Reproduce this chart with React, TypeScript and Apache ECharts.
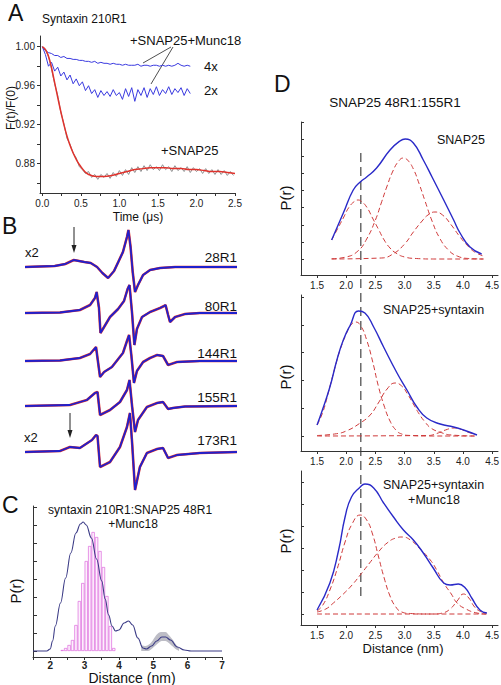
import React, { useEffect, useRef } from "react";
import * as echarts from "echarts";

const FONT = "'Liberation Sans', Arial, Helvetica, sans-serif";

// ---------------- Panel A : F(t)/F(0) vs time ----------------
const aStep = 0.04;
const aMunc4x = [1.0, 0.996, 0.994, 0.993, 0.991, 0.991, 0.989, 0.99, 0.988, 0.988, 0.987, 0.987, 0.986, 0.986, 0.985, 0.985, 0.984, 0.985, 0.983, 0.984, 0.983, 0.983, 0.982, 0.983, 0.982, 0.982, 0.981, 0.982, 0.981, 0.981, 0.981, 0.982, 0.98, 0.981, 0.981, 0.98, 0.981, 0.981, 0.98, 0.981, 0.98, 0.981, 0.98, 0.981, 0.983, 0.981, 0.98, 0.981, 0.98];
const aMunc2x = [1.0, 0.992, 0.98, 0.984, 0.975, 0.979, 0.97, 0.974, 0.966, 0.971, 0.962, 0.967, 0.96, 0.964, 0.955, 0.96, 0.952, 0.956, 0.948, 0.955, 0.95, 0.954, 0.949, 0.956, 0.95, 0.953, 0.946, 0.957, 0.949, 0.958, 0.944, 0.956, 0.95, 0.958, 0.948, 0.957, 0.951, 0.959, 0.95, 0.956, 0.952, 0.959, 0.951, 0.957, 0.953, 0.958, 0.95, 0.957, 0.952];
const aSnapRaw = [1.0, 0.997, 0.99, 0.977, 0.962, 0.95, 0.933, 0.921, 0.906, 0.9, 0.891, 0.886, 0.877, 0.874, 0.87, 0.872, 0.866, 0.869, 0.864, 0.869, 0.866, 0.87, 0.865, 0.871, 0.867, 0.873, 0.868, 0.874, 0.869, 0.876, 0.871, 0.877, 0.872, 0.878, 0.873, 0.879, 0.874, 0.877, 0.873, 0.879, 0.874, 0.877, 0.872, 0.878, 0.873, 0.876, 0.872, 0.877, 0.871, 0.876, 0.872, 0.875, 0.87, 0.875, 0.87, 0.874, 0.869, 0.874, 0.869, 0.873, 0.868, 0.872, 0.868];
const aFitT = [0, 0.05, 0.1, 0.15, 0.2, 0.25, 0.3, 0.35, 0.4, 0.45, 0.5, 0.55, 0.6, 0.7, 0.8, 0.9, 1.0, 1.1, 1.2, 1.3, 1.4, 1.5, 1.6, 1.7, 1.8, 1.9, 2.0, 2.1, 2.2, 2.3, 2.4, 2.5];
const aFitV = [1.0, 0.996, 0.985, 0.967, 0.948, 0.93, 0.914, 0.901, 0.891, 0.883, 0.877, 0.872, 0.869, 0.867, 0.867, 0.868, 0.87, 0.872, 0.874, 0.875, 0.876, 0.876, 0.876, 0.875, 0.875, 0.874, 0.874, 0.873, 0.872, 0.872, 0.871, 0.87];
const aYLabels = [0.88, 0.92, 0.96, 1.0];
const aYTicks = [0.86, 0.88, 0.9, 0.92, 0.94, 0.96, 0.98, 1.0];
const aXLabels = [0, 0.5, 1.0, 1.5, 2.0, 2.5];
const aXTicks = [0, 0.25, 0.5, 0.75, 1.0, 1.25, 1.5, 1.75, 2.0, 2.25, 2.5];

// ---------------- Panel B : EPR spectra ----------------
const bNames = ["28R1", "80R1", "144R1", "155R1", "173R1"];
const bOffsets = [233, 187, 139, 94, 48];
const b28R1 = [[0, 0], [7, 0.5], [14, 1], [19, 3], [23, 7], [28, 5], [31, 4], [34, 0], [36.5, -6], [39.2, -11], [42, -4], [44, 5], [46.2, 15], [48.1, 30], [48.8, 37], [49.8, 20], [50.8, -5], [51.9, -25], [53.3, -18], [55.7, -8], [59, -3], [63.7, -1], [70.8, 0], [100, 0]];
const b80R1 = [[0, 0], [16.5, 0.5], [25.9, 3], [30.7, 8], [33, 15], [33.8, 21], [34.9, 5], [35.6, -20], [37.3, -14], [40.1, -4], [43.9, 4], [46.7, 12], [48.4, 24], [49.3, 28], [50.5, 0], [51.6, -32], [52.8, -16], [55.2, -4], [59, 1], [63.7, 5], [65.6, 7], [66.3, 8], [67.5, -2], [68.4, -9], [70.8, -4], [75.5, -1], [82.5, 0], [100, 0]];
const b144R1 = [[0, 0], [16.5, 0.5], [25.9, 3], [30.7, 7], [33.5, 14], [35.4, -16], [37.3, -11], [41, -6], [46.2, 8], [48.1, 20], [49.1, 26], [50.2, 5], [51.4, -22], [52.8, -10], [55.7, -1], [59, 3], [62.3, 6], [65.1, 5], [67.5, -4], [71.7, -1], [82.5, 0], [100, 0]];
const b155R1 = [[0, 0], [21.2, 1], [29.2, 6], [33, 13], [34.2, 14], [35.4, -9], [40.1, -4], [44.8, 4], [48.1, 16], [49.3, 26], [50.5, 0], [51.9, -26], [53.3, -14], [57.5, -1], [62.3, 3], [65.1, 4], [67.5, -3], [69.8, -2], [75.5, -0.5], [100, 0]];
const b173R1 = [[0, 0], [16.5, 1], [21.2, 5], [25.9, 4], [31.6, 12], [33.5, 17], [34.2, 16], [35.4, -15], [40.1, -10], [44.8, 5], [48.1, 25], [49.5, 39], [50.5, 10], [51.9, -38], [54.2, -15], [57.5, -1], [62.3, 3], [65.1, 4], [67.5, -6], [71.7, -3], [82.5, -1], [100, 0]];
const bSpectra = [b28R1, b80R1, b144R1, b155R1, b173R1];

// ---------------- Panel C : distance distribution ----------------
const cCurveR = [1.5, 1.9, 2.0, 2.07, 2.15, 2.3, 2.45, 2.6, 2.75, 2.88, 2.96, 3.05, 3.2, 3.35, 3.5, 3.6, 3.7, 3.8, 3.9, 4.0, 4.15, 4.28, 4.4, 4.55, 4.7, 4.8, 4.95, 5.1, 5.25, 5.36, 5.5, 5.7, 5.9, 6.1, 7.0];
const cCurveH = [0, 0, 2, 10, 25, 48, 73, 98, 118, 127, 129, 126, 113, 92, 70, 52, 36, 25, 20, 21, 28, 30, 26, 13, 3, 2, 5, 10, 14, 14, 11, 4, 1, 0, 0];
const cBandR = [4.65, 4.75, 4.85, 4.95, 5.05, 5.15, 5.25, 5.35, 5.45, 5.55, 5.65, 5.75];
const cBandLo = [0, 0, 0, 2, 5, 8, 10, 10, 8, 5, 2, 0];
const cBandHi = [6, 5, 6, 9, 14, 18, 19, 19, 16, 12, 7, 3];
const cHistR = [2.35, 2.45, 2.55, 2.65, 2.75, 2.85, 2.95, 3.05, 3.15, 3.25, 3.35, 3.45, 3.55, 3.65, 3.75, 3.85];
const cHistH = [1, 3, 6, 11, 26, 50, 68, 90, 105, 119, 114, 100, 84, 55, 25, 3];
const cXLabels = [2, 3, 4, 5, 6, 7];
const cXTicks = [1.5, 2, 2.5, 3, 3.5, 4, 4.5, 5, 5.5, 6, 6.5, 7];
const cYTicks = [0, 18, 36, 54, 72, 90, 108, 126, 144];

// ---------------- Panel D : SNAP25 48R1:155R1 ----------------
const dXLabels = [1.5, 2.0, 2.5, 3.0, 3.5, 4.0, 4.5];
const dMarker = 2.25;
// top: SNAP25
const dTopBlueR = [1.75, 1.95, 2.12, 2.24, 2.35, 2.52, 2.75, 2.92, 3.01, 3.15, 3.32, 3.47, 3.67, 3.84, 3.95, 4.12, 4.32];
const dTopBlueH = [19, 46, 69, 77, 82, 91, 109, 118, 120, 116, 99, 82, 59, 39, 26, 12, 5];
const dTopG1R = [1.75, 1.85, 1.95, 2.05, 2.15, 2.2, 2.25, 2.35, 2.45, 2.55, 2.65, 2.75, 2.85, 3.0, 3.2, 3.5, 4.35];
const dTopG1H = [19, 30, 41, 52, 58, 59, 58, 52, 41, 30, 19, 11, 6, 2, 0.5, 0, 0];
const dTopG2R = [1.75, 2.0, 2.2, 2.35, 2.5, 2.6, 2.7, 2.8, 2.9, 2.98, 3.05, 3.15, 3.25, 3.35, 3.47, 3.6, 3.75, 3.9, 4.1, 4.35];
const dTopG2H = [0.2, 2, 8, 20, 39, 56, 73, 88, 98, 101, 99, 90, 75, 58, 38, 21, 9, 3, 0.5, 0];
const dTopG3R = [1.75, 2.6, 2.8, 3.0, 3.15, 3.3, 3.4, 3.52, 3.65, 3.8, 3.95, 4.1, 4.2, 4.35];
const dTopG3H = [0, 1, 5, 15, 27, 38, 44, 47, 44, 34, 22, 12, 7, 3];
const dTopTicks = [0, 17.1, 34.2, 51.3, 68.4, 85.5, 102.6, 119.7, 136.8];
// middle: SNAP25+syntaxin
const dMidBlueR = [1.5, 1.58, 1.72, 1.84, 1.95, 2.07, 2.21, 2.32, 2.47, 2.64, 2.87, 3.04, 3.21, 3.38, 3.61, 3.84, 4.01, 4.24];
const dMidBlueH = [11, 24, 49, 76, 96, 111, 125, 123, 109, 89, 63, 46, 29, 18, 12, 9, 6, 1];
const dMidG1R = [1.5, 1.6, 1.7, 1.8, 1.9, 2.0, 2.08, 2.16, 2.25, 2.35, 2.45, 2.55, 2.65, 2.75, 2.85, 2.95, 3.1, 3.4, 4.2];
const dMidG1H = [11, 24, 45, 67, 87, 102, 111, 114, 110, 96, 75, 50, 30, 15, 6, 2, 0.5, 0, 0];
const dMidG2R = [1.5, 1.8, 2.0, 2.24, 2.41, 2.55, 2.7, 2.84, 2.95, 3.05, 3.15, 3.25, 3.35, 3.45, 3.6, 3.8, 4.2];
const dMidG2H = [0.5, 2, 5, 13, 21, 33, 47, 53, 50, 42, 32, 22, 14, 8, 4, 1, 0];
const dMidG3R = [1.5, 3.4, 3.55, 3.7, 3.85, 4.0, 4.1, 4.2];
const dMidG3H = [0, 0.5, 2.5, 6, 8, 6, 3.5, 2];
const dMidTicks = [0, 27.8, 55.6, 83.4, 111.2, 139];
// bottom: SNAP25+syntaxin+Munc18
const dBotBlueR = [1.5, 1.72, 1.87, 1.98, 2.09, 2.24, 2.32, 2.47, 2.64, 2.81, 2.98, 3.15, 3.32, 3.49, 3.67, 3.78, 3.92, 4.04, 4.15, 4.29, 4.41];
const dBotBlueH = [4, 31, 64, 97, 117, 127, 130, 126, 111, 97, 84, 74, 61, 46, 31, 29, 30, 26, 16, 4, 1];
const dBotG1R = [1.5, 1.6, 1.72, 1.85, 1.98, 2.1, 2.24, 2.35, 2.45, 2.55, 2.65, 2.75, 2.85, 2.95, 3.1, 3.4, 4.4];
const dBotG1H = [3, 9, 24, 46, 72, 90, 99, 94, 80, 58, 36, 18, 7, 2, 0.5, 0, 0];
const dBotG2R = [1.5, 1.65, 1.78, 1.95, 2.1, 2.24, 2.4, 2.55, 2.7, 2.85, 2.96, 3.1, 3.25, 3.44, 3.55, 3.67, 3.8, 3.9, 4.05, 4.24, 4.4];
const dBotG2H = [2, 5, 11, 20, 29, 39, 51, 62, 71, 76, 77, 74, 66, 54, 44, 31, 20, 11, 5, 1, 0];
const dBotG3R = [1.5, 3.5, 3.65, 3.78, 3.9, 4.01, 4.1, 4.2, 4.3, 4.4];
const dBotG3H = [0, 0, 1, 5, 13, 20, 16, 7, 2.5, 1];
const dBotTicks = [0, 22, 44, 66, 88, 110, 132];

// ---------------- helpers ----------------
const zip = (xs: number[], ys: number[]) => xs.map((x, i) => [x, ys[i]]);
const RED = "#e0322c";
const DRED = "#cf3a3a";
const AX = "#333";

const lineSeries = (xi: number, data: number[][], color: string, width: number, extra: any = {}) => ({
  type: "line",
  xAxisIndex: xi,
  yAxisIndex: xi,
  data,
  symbol: "none",
  showSymbol: false,
  silent: true,
  lineStyle: { color, width },
  ...extra,
});

const txt = (id: string, text: string, x: number, y: number, size: number, opts: any = {}) => ({
  type: "text",
  id,
  x,
  y,
  rotation: opts.rotation || 0,
  silent: true,
  style: {
    text,
    fill: opts.fill || "#111",
    fontSize: size,
    fontFamily: FONT,
    fontWeight: opts.bold ? "bold" : "normal",
    textAlign: opts.align || "left",
    textVerticalAlign: "middle",
  },
});

const seg = (id: string, x1: number, y1: number, x2: number, y2: number, color = "#222", width = 0.8, dash: any = null) => ({
  type: "line",
  id,
  silent: true,
  shape: { x1, y1, x2, y2 },
  style: { stroke: color, lineWidth: width, lineDash: dash },
});

export default function App() {
  const ref = useRef<HTMLDivElement>(null);

  useEffect(() => {
    if (!ref.current) return;
    const chart = echarts.init(ref.current, null, { renderer: "svg" });

    const axisLine = { show: true, onZero: false, lineStyle: { color: AX, width: 1 } };
    const noSplit = { show: false };
    const labelStyle = { color: "#222", fontSize: 10, fontFamily: FONT };

    const grids = [
      { left: 40, top: 36, width: 195, height: 157 }, // A
      { left: 25, top: 200, width: 212, height: 300 }, // B
      { left: 33, top: 506, width: 189, height: 151 }, // C
      { left: 301, top: 122, width: 197, height: 153 }, // D top
      { left: 301, top: 295, width: 197, height: 156 }, // D mid
      { left: 301, top: 471, width: 197, height: 154 }, // D bot
    ].map((g) => ({ ...g, containLabel: false, outerBoundsMode: "none" }));

    const dX = (gi: number) => ({
      type: "value",
      gridIndex: gi,
      min: 1.225,
      max: 4.6,
      axisLine,
      splitLine: noSplit,
      axisTick: { show: true, length: 3, customValues: dXLabels, lineStyle: { color: AX } },
      axisLabel: { ...labelStyle, margin: 5, customValues: dXLabels, formatter: (v: number) => v.toFixed(1) },
    });
    const dY = (gi: number, min: number, max: number, ticks: number[]) => ({
      type: "value",
      gridIndex: gi,
      min,
      max,
      axisLine,
      splitLine: noSplit,
      axisTick: { show: true, inside: true, length: 3, customValues: ticks, lineStyle: { color: AX } },
      axisLabel: { show: false },
    });

    const xAxis: any[] = [
      {
        type: "value",
        gridIndex: 0,
        min: -0.03,
        max: 2.5,
        axisLine,
        splitLine: noSplit,
        axisTick: { show: true, length: 3, customValues: aXTicks, lineStyle: { color: AX } },
        axisLabel: { ...labelStyle, margin: 5, customValues: aXLabels, formatter: (v: number) => v.toFixed(1) },
      },
      { type: "value", gridIndex: 1, min: 0, max: 100, show: false },
      {
        type: "value",
        gridIndex: 2,
        min: 1.5,
        max: 7,
        axisLine,
        splitLine: noSplit,
        axisTick: { show: true, length: 3, customValues: cXTicks, lineStyle: { color: AX } },
        axisLabel: { ...labelStyle, fontSize: 10, fontWeight: "bold", margin: 3, customValues: cXLabels },
      },
      dX(3),
      dX(4),
      dX(5),
    ];

    const yAxis: any[] = [
      {
        type: "value",
        gridIndex: 0,
        min: 0.85,
        max: 1.011,
        axisLine,
        splitLine: noSplit,
        axisTick: { show: true, length: 3, customValues: aYTicks, lineStyle: { color: AX } },
        axisLabel: { ...labelStyle, margin: 5, customValues: aYLabels, formatter: (v: number) => v.toFixed(2) },
      },
      { type: "value", gridIndex: 1, min: 0, max: 300, show: false },
      {
        type: "value",
        gridIndex: 2,
        min: -6,
        max: 145,
        axisLine,
        splitLine: noSplit,
        axisTick: { show: true, inside: true, length: 4, customValues: cYTicks, lineStyle: { color: AX } },
        axisLabel: { show: false },
      },
      dY(3, -16, 137, dTopTicks),
      dY(4, -15, 141, dMidTicks),
      dY(5, -11, 143, dBotTicks),
    ];

    const series: any[] = [];
    // A
    series.push(lineSeries(0, aMunc4x.map((v, i) => [i * aStep, v]), "#3a3ae0", 1));
    series.push(lineSeries(0, aMunc2x.map((v, i) => [i * aStep, v]), "#3a3ae0", 1));
    series.push(lineSeries(0, aSnapRaw.map((v, i) => [i * aStep, v]), "#909090", 1));
    series.push(lineSeries(0, zip(aFitT, aFitV), RED, 1.5, { smooth: 0.4 }));
    // B
    bSpectra.forEach((sp, k) => {
      const data = sp.map(([u, h]) => [u, bOffsets[k] + h]);
      series.push(lineSeries(1, data, RED, 2.6));
      series.push(lineSeries(1, data, "#2020cc", 1.8));
    });
    // C : uncertainty band (grey upper area, white lower area), histogram, curve
    series.push(
      lineSeries(2, zip(cBandR, cBandHi), "#b9b9c2", 0, {
        smooth: 0.4,
        lineStyle: { width: 0, opacity: 0 },
        areaStyle: { color: "#bdbdc6", opacity: 1 },
      })
    );
    series.push(
      lineSeries(2, zip(cBandR, cBandLo), "#fff", 0, {
        smooth: 0.4,
        lineStyle: { width: 0, opacity: 0 },
        areaStyle: { color: "#ffffff", opacity: 1 },
      })
    );
    series.push({
      type: "bar",
      xAxisIndex: 2,
      yAxisIndex: 2,
      data: zip(cHistR, cHistH),
      barWidth: 3.3,
      silent: true,
      itemStyle: { color: "#fdf0fd", borderColor: "#dc6adc", borderWidth: 0.7 },
    });
    series.push(lineSeries(2, zip(cCurveR, cCurveH), "#3b3b86", 1.1, { smooth: 0.4, smoothMonotone: "x" }));
    // D
    const dPlots = [
      { gi: 3, blue: zip(dTopBlueR, dTopBlueH), g: [zip(dTopG1R, dTopG1H), zip(dTopG2R, dTopG2H), zip(dTopG3R, dTopG3H)] },
      { gi: 4, blue: zip(dMidBlueR, dMidBlueH), g: [zip(dMidG1R, dMidG1H), zip(dMidG2R, dMidG2H), zip(dMidG3R, dMidG3H)] },
      { gi: 5, blue: zip(dBotBlueR, dBotBlueH), g: [zip(dBotG1R, dBotG1H), zip(dBotG2R, dBotG2H), zip(dBotG3R, dBotG3H)] },
    ];
    dPlots.forEach((p) => {
      p.g.forEach((g) =>
        series.push(lineSeries(p.gi, g, DRED, 1, { smooth: 0.5, lineStyle: { color: DRED, width: 1, type: [5, 3] } }))
      );
      series.push(lineSeries(p.gi, p.blue, "#2a2ac8", 1.4, { smooth: 0.5 }));
    });

    chart.setOption({
      animation: false,
      backgroundColor: "#ffffff",
      textStyle: { fontFamily: FONT },
      grid: grids,
      xAxis,
      yAxis,
      series,
    });

    // annotations
    const mx = chart.convertToPixel({ xAxisIndex: 3 }, dMarker) as number;
    const myTop = chart.convertToPixel({ yAxisIndex: 3 }, 106) as number;
    const myBot = chart.convertToPixel({ yAxisIndex: 5 }, 17) as number;

    const graphic: any[] = [
      // panel letters
      txt("LA", "A", 8, 13, 23),
      txt("LB", "B", 2, 226, 23),
      txt("LC", "C", 2, 505, 23),
      txt("LD", "D", 274, 84, 23),
      // A texts
      txt("aTitle", "Syntaxin 210R1", 42, 19, 12),
      txt("aMunc", "+SNAP25+Munc18", 130, 40, 13),
      txt("a4x", "4x", 204, 66, 13),
      txt("a2x", "2x", 204, 90, 13),
      txt("aSnap", "+SNAP25", 161, 150, 13),
      txt("aYName", "F(t)/F(0)", 11, 108, 12, { align: "center", rotation: Math.PI / 2 }),
      txt("aXName", "Time (\u03bcs)", 138, 217, 12, { align: "center" }),
      seg("aL1", 171, 47, 143, 63),
      seg("aL2", 173, 47, 151, 84),
      // B texts
      ...bNames.map((n, i) => txt("bn" + i, n, 237, [257, 306, 353, 397, 440][i], 13.5, { align: "right" })),
      txt("bx2a", "x2", 25, 252, 13),
      txt("bx2b", "x2", 24, 437, 13),
      seg("bAr1", 74, 227, 74, 246, "#222", 1),
      { type: "polygon", id: "bAh1", silent: true, shape: { points: [[71.5, 245], [76.5, 245], [74, 253]] }, style: { fill: "#222" } },
      seg("bAr2", 70, 413, 70, 431, "#222", 1),
      { type: "polygon", id: "bAh2", silent: true, shape: { points: [[67.5, 430], [72.5, 430], [70, 438]] }, style: { fill: "#222" } },
      // C texts
      txt("cT1", "syntaxin 210R1:SNAP25 48R1", 130, 510, 12, { align: "center" }),
      txt("cT2", "+Munc18", 133, 524, 12, { align: "center" }),
      txt("cY", "P(r)", 15, 591, 15, { align: "center", rotation: Math.PI / 2 }),
      txt("cX", "Distance (nm)", 132, 678, 14, { align: "center" }),
      // D texts
      txt("dT", "SNAP25 48R1:155R1", 395, 102, 13.5, { align: "center" }),
      txt("dL1", "SNAP25", 437, 140, 12.5),
      txt("dL2", "SNAP25+syntaxin", 383, 310, 12.5),
      txt("dL3a", "SNAP25+syntaxin", 383, 485, 12.5),
      txt("dL3b", "+Munc18", 434, 500, 12.5, { align: "center" }),
      txt("dY1", "P(r)", 285, 198, 15, { align: "center", rotation: Math.PI / 2 }),
      txt("dY2", "P(r)", 285, 377, 15, { align: "center", rotation: Math.PI / 2 }),
      txt("dY3", "P(r)", 285, 541, 15, { align: "center", rotation: Math.PI / 2 }),
      txt("dX", "Distance (nm)", 403, 648, 13, { align: "center" }),
      seg("dMark", mx, myTop, mx, myBot, "#333", 1.1, [9, 5]),
    ];

    chart.setOption({ graphic });

    return () => chart.dispose();
  }, []);

  return (
    <div
      ref={ref}
      style={{ position: "absolute", left: 0, top: 0, width: 501, height: 685, background: "#fff" }}
    />
  );
}
